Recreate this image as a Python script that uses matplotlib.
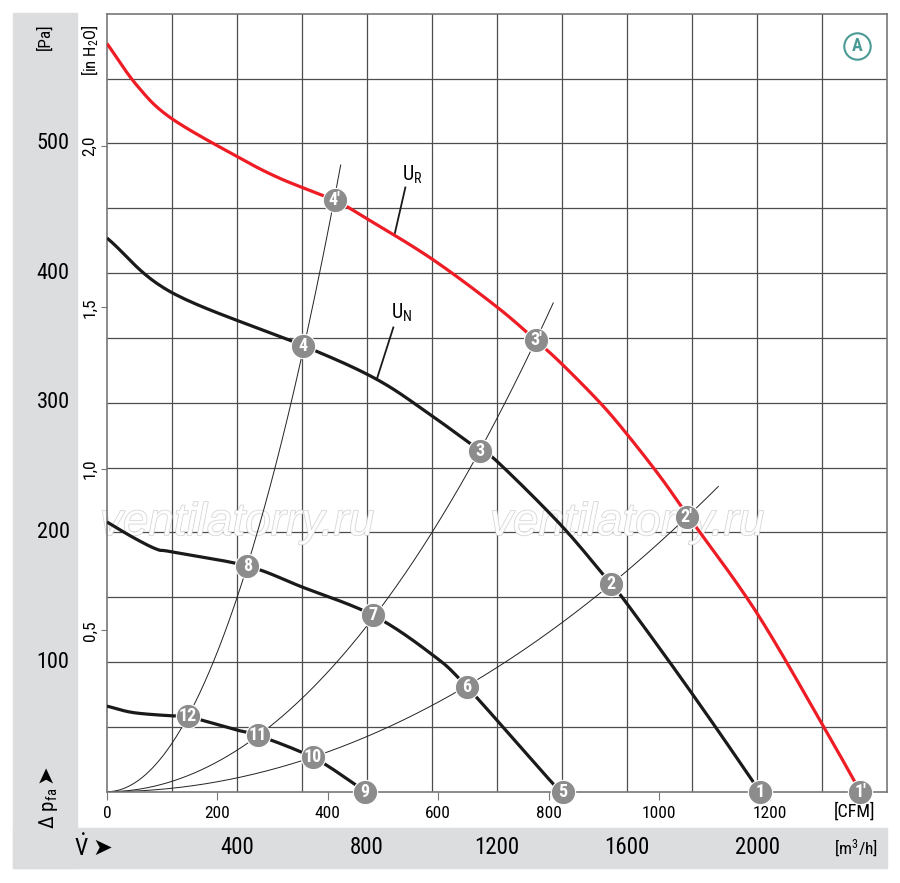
import numpy as np
import matplotlib
matplotlib.use("Agg")
import matplotlib.pyplot as plt
import matplotlib.patheffects as pe
from matplotlib import font_manager as fm
from matplotlib.patches import Rectangle
from matplotlib.transforms import blended_transform_factory

# ── Fonts: trazi uski font ako postoji ───────────────────────
names = {f.name for f in fm.fontManager.ttflist}
MAIN = 'Liberation Sans'
NARROW = False
for cand in ['Liberation Sans Narrow', 'Roboto Condensed', 'Noto Sans Condensed',
             'Open Sans Condensed', 'Nimbus Sans Narrow', 'Arial Narrow']:
    if cand in names:
        MAIN, NARROW = cand, True
        break
STRETCH = 'normal'
if not NARROW:
    for fam in ['Noto Sans', 'Roboto', 'Open Sans']:
        cond = [f for f in fm.fontManager.ttflist
                if f.name == fam and f.stretch in ('condensed', 'semi-condensed', 'extra-condensed', 500, 600, 700)]
        if cond:
            MAIN, NARROW, STRETCH = fam, True, 'condensed'
            break
SC = 1.0 if NARROW else 0.9

FONT = [MAIN, 'DejaVu Sans']
plt.rcParams['font.family'] = FONT
plt.rcParams['font.stretch'] = STRETCH
plt.rcParams['mathtext.fontset'] = 'custom'
plt.rcParams['mathtext.rm'] = MAIN
plt.rcParams['mathtext.it'] = MAIN + ':italic'
plt.rcParams['mathtext.bf'] = MAIN + ':bold'

# ── Data (V in m3/h, p in Pa) ────────────────────────────────
ur_V = [0, 91, 194, 399, 532, 700, 799, 999, 1199, 1320, 1399, 1517, 1599, 1702, 1784, 1994, 2194, 2318]
ur_p = [577, 545, 520, 490, 473, 456, 442, 411, 374, 348, 330, 300, 276, 243, 214, 140, 55, 0]

un_V = [0, 199, 604, 830, 999, 1148, 1199, 1399, 1551, 1588, 1731, 1872, 2009]
un_p = [427, 385, 344, 318, 290, 263, 255, 205, 160, 149, 100, 50, 0]

mid_V = [0, 81, 153, 199, 432, 599, 819, 999, 1107, 1373, 1403]
mid_p = [208, 196, 187, 185, 174, 158, 136, 106, 81, 6, 0]

low_V = [0, 81, 199, 248, 399, 464, 633, 758, 794]
low_p = [66, 61, 58.5, 58, 47.6, 43.5, 26.5, 6.5, 0]

# operating points
op_labels = ['1', '2', '3', '4', "1'", "2'", "3'", "4'", '5', '6', '7', '8', '9', '10', '11', '12']
op_V = [2009, 1551, 1148, 604, 2318, 1784, 1320, 700, 1403, 1107, 819, 432, 794, 633, 464, 248]
op_p = [0, 160, 263, 344, 0, 212, 348, 456, 0, 81, 136, 174, 0, 26.5, 43.5, 58]

# system curves: which points they pass through + where they stop
sys_groups = [['12', '8', '4', "4'"], ['11', '7', '3', "3'"], ['10', '6', '2', "2'"]]
sys_end_V = [719, 1373, 1881]

cfm_ticks = [0, 200, 400, 600, 800, 1000, 1200]
m3h_ticks = [400, 800, 1200, 1600, 2000]
pa_ticks = [100, 200, 300, 400, 500]
inh2o_ticks = [0.5, 1.0, 1.5, 2.0]

CFM2M3H = 1.69901
INH2O2PA = 249.089


def smooth(xs, ys, n=24):
    """Catmull-Rom kroz ocitane tacke, samo za glatko crtanje"""
    pts = np.column_stack([xs, ys]).astype(float)
    P = np.vstack([2 * pts[0] - pts[1], pts, 2 * pts[-1] - pts[-2]])
    t = np.linspace(0, 1, n, endpoint=False)[:, None]
    out = []
    for i in range(1, len(P) - 2):
        p0, p1, p2, p3 = P[i - 1], P[i], P[i + 1], P[i + 2]
        seg = 0.5 * (2 * p1 + (-p0 + p2) * t + (2 * p0 - 5 * p1 + 4 * p2 - p3) * t ** 2
                     + (-p0 + 3 * p1 - 3 * p2 + p3) * t ** 3)
        out.append(seg)
    out.append(pts[-1:])
    s = np.vstack(out)
    return s[:, 0], s[:, 1]


# ── Figure ───────────────────────────────────────────────────
W, H = 900, 883
fig = plt.figure(figsize=(W / 100, H / 100), dpi=100)
ax = fig.add_axes([107 / W, (H - 791.7) / H, 780 / W, 778 / H])

# gray L-band
band = '#dcdddf'
fig.patches.append(Rectangle((13 / W, 15 / H), 64 / W, (868 - 13) / H,
                             transform=fig.transFigure, color=band, zorder=0))
fig.patches.append(Rectangle((13 / W, 15 / H), (887 - 13) / W, 40 / H,
                             transform=fig.transFigure, color=band, zorder=0))

ax.set_xlim(0, 2400)
ax.set_ylim(0, 600)
ax.set_facecolor('white')

for v in range(200, 2400, 200):
    ax.axvline(v, color='#4d4d4d', lw=0.9, zorder=0.5)
for p in range(50, 600, 50):
    ax.axhline(p, color='#4d4d4d', lw=0.9, zorder=0.5)
for s in ax.spines.values():
    s.set_color('#777777')
    s.set_linewidth(1.2)

# ticks
ax.set_xticks([c * CFM2M3H for c in cfm_ticks])
ax.set_xticklabels([str(c) for c in cfm_ticks], fontsize=12.5 * SC)
ax.tick_params(axis='x', length=6, color='#777777', pad=4)
ax.set_yticks([h * INH2O2PA for h in inh2o_ticks])
ax.set_yticklabels([])
ax.tick_params(axis='y', length=4, color='#777777')

ax.text(1400 * CFM2M3H - 14, -8, '[CFM]', fontsize=13 * SC, ha='right', va='top')

# left labels
tr_fy = blended_transform_factory(fig.transFigure, ax.transData)
for p in pa_ticks:
    fig.text(53 / W, p, str(p), transform=tr_fy, fontsize=16 * SC, ha='center', va='center')
for h in inh2o_ticks:
    fig.text(90 / W, h * INH2O2PA, f"{h:.1f}".replace('.', ','), transform=tr_fy,
             fontsize=12.5 * SC, ha='center', va='center', rotation=90)
fig.text(45 / W, 1 - 37 / H, '[Pa]', fontsize=12.5 * SC, ha='center', va='center', rotation=90)
fig.text(90 / W, 1 - 50 / H, r'[in H$_2$O]', fontsize=12 * SC, ha='center', va='center', rotation=90)
fig.text(48 / W, 1 - 829 / H, r'$\Delta\ \mathrm{p}_{\mathrm{fa}}$', fontsize=15 * SC,
         ha='center', va='bottom', rotation=90)
fig.text(46 / W, 1 - 774 / H, '➤', fontsize=16, ha='center', va='center', rotation=90)

# bottom band labels
tr_xf = blended_transform_factory(ax.transData, fig.transFigure)
for v in m3h_ticks:
    fig.text(v, 1 - 848 / H, str(v), transform=tr_xf, fontsize=16.5 * SC, ha='center', va='center')
fig.text(878 / W, 1 - 848 / H, r'[m$^3$/h]', fontsize=12.5 * SC, ha='right', va='center')
fig.text(81 / W, 1 - 848 / H, r'$\dot{\mathrm{V}}$', fontsize=17 * SC, ha='center', va='center')
fig.text(102 / W, 1 - 848 / H, '➤', fontsize=17, ha='center', va='center')

# watermark (inside axes so curves sit on top)
for x0 in (100, 490):
    ax.text(x0 / W, 1 - 535 / H, 'ventilatorry.ru', fontsize=33, style='italic',
            family=['Liberation Sans', 'DejaVu Sans'], color='white', alpha=0.9,
            ha='left', va='baseline', zorder=1, transform=fig.transFigure, clip_on=False,
            path_effects=[pe.withStroke(linewidth=1.0, foreground='#cccccc')])

# system curves (parabolas fitted to read points)
lookup = dict(zip(op_labels, zip(op_V, op_p)))
for grp, vend in zip(sys_groups, sys_end_V):
    V = np.array([lookup[g][0] for g in grp])
    P = np.array([lookup[g][1] for g in grp])
    k = np.sum(P * V ** 2) / np.sum(V ** 4)
    vv = np.linspace(0, vend, 200)
    ax.plot(vv, k * vv ** 2, color='#222222', lw=0.7, zorder=2)
ax.plot([0, 2400], [0, 0], color='#222222', lw=0.7, zorder=2)

# fan curves
for xs, ys, col in [(low_V, low_p, '#1a1a1a'), (mid_V, mid_p, '#1a1a1a'),
                    (un_V, un_p, '#1a1a1a'), (ur_V, ur_p, '#ee1c24')]:
    sx, sy = smooth(xs, ys)
    ax.plot(sx, sy, color=col, lw=2.3, zorder=3, solid_capstyle='butt')

# U_R / U_N labels
ax.plot([918, 886], [466, 431], color='#1a1a1a', lw=1.3, zorder=3)
ax.text(941, 476, r'U$_\mathrm{R}$', fontsize=14.5 * SC, ha='center', va='center')
ax.plot([881, 830], [358, 318], color='#1a1a1a', lw=1.3, zorder=3)
ax.text(907, 369, r'U$_\mathrm{N}$', fontsize=14.5 * SC, ha='center', va='center')

# operating point markers
ax.plot(op_V, op_p, 'o', ms=17.5, mfc='#8c8c8c', mec='white', mew=0.8,
        zorder=4, clip_on=False)
for lab, v, p in zip(op_labels, op_V, op_p):
    ax.text(v, p, lab, color='white', fontsize=13 * SC, fontweight='bold',
            ha='center', va='center', zorder=5, clip_on=False)

# circled A
ax.plot([(857 - 107) / 780], [(791.7 - 46) / 778], 'o', ms=19, mfc='white',
        mec='#4a9a96', mew=1.5, transform=ax.transAxes, zorder=5)
ax.text((857 - 107) / 780, (791.7 - 46) / 778, 'A', color='#4a9a96', fontsize=13,
        fontweight='bold', ha='center', va='center', transform=ax.transAxes, zorder=6)

fig.savefig('out.png', dpi=100)
